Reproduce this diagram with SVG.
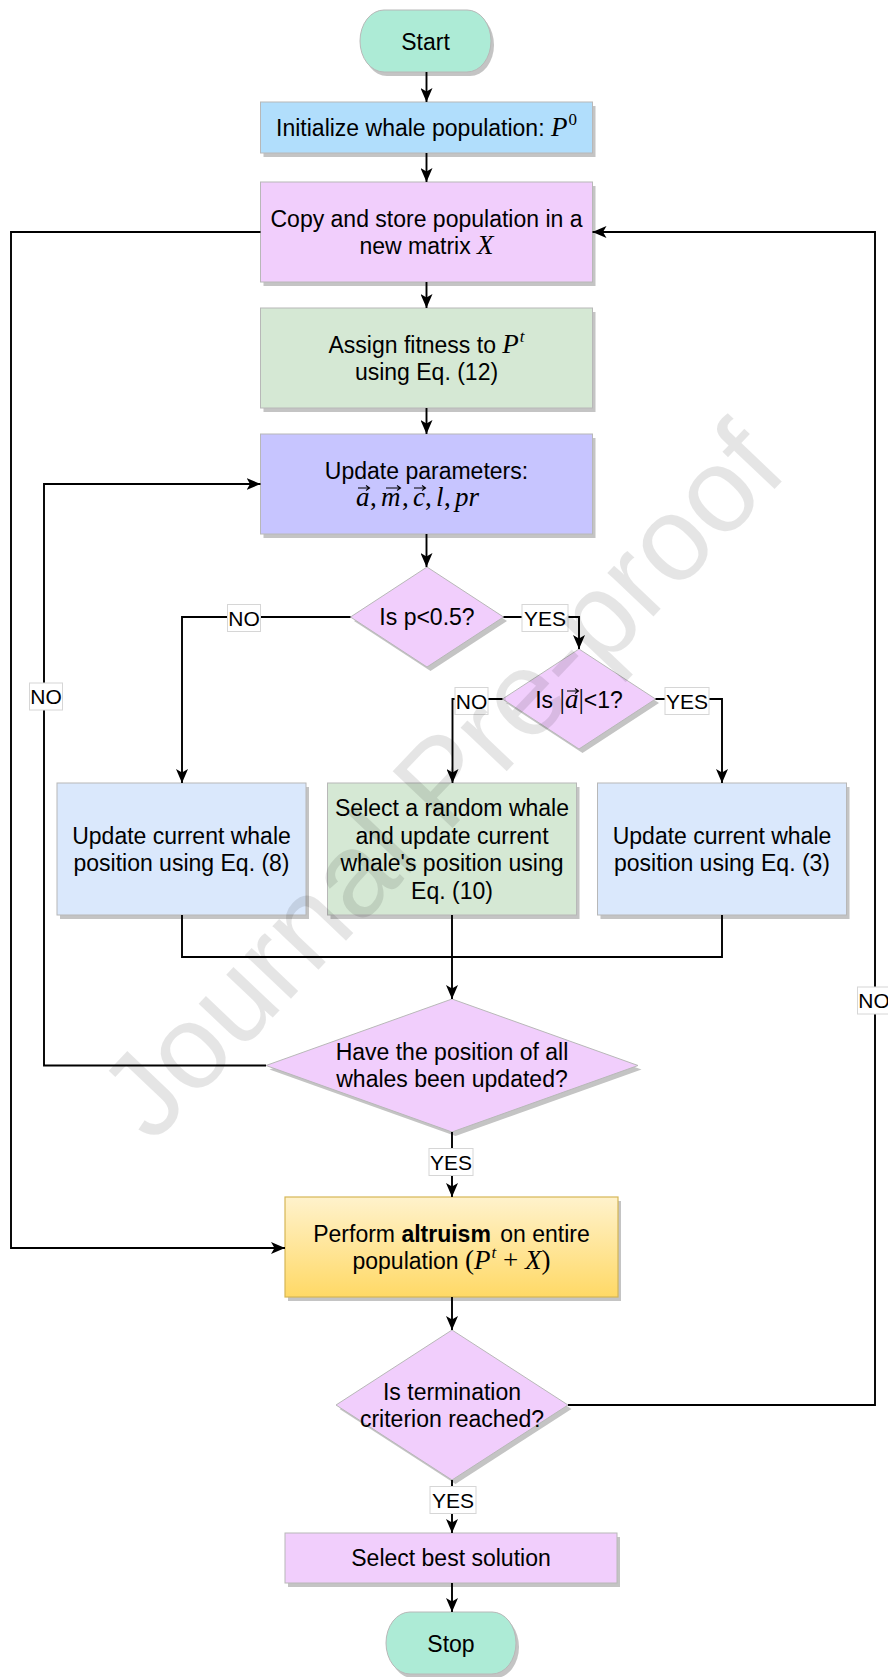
<svg xmlns="http://www.w3.org/2000/svg" width="888" height="1677" viewBox="0 0 888 1677">
<style>
.t{font-family:"Liberation Sans",Arial,sans-serif;font-size:23px;fill:#000;text-anchor:middle}
.lb{font-family:"Liberation Sans",Arial,sans-serif;font-size:21px;fill:#000;text-anchor:middle}
.m{font-family:"Liberation Serif","Times New Roman",serif;font-style:italic;font-size:27px}
.mu{font-family:"Liberation Serif","Times New Roman",serif;font-style:normal;font-size:27px}
.sup{font-family:"Liberation Serif","Times New Roman",serif;font-style:italic;font-size:17px}
.supu{font-family:"Liberation Serif","Times New Roman",serif;font-style:normal;font-size:17px}
.mx{font-family:"Liberation Serif","Times New Roman",serif;font-style:italic;font-size:27px;fill:#000}
.sh{fill:#c4c4c4}
.nb{stroke:#b8b8b8;stroke-width:1}
.term{fill:#adebd6}
.lil{fill:#f1cefc}
.grn{fill:#d5e8d4}
.blu{fill:#dae8fc}
.e{fill:none;stroke:#000;stroke-width:1.9}
.ea{fill:none;stroke:#000;stroke-width:1.9;marker-end:url(#arr)}
.lbox{fill:#fff;stroke:#d6d6d6;stroke-width:1}
.vec{fill:none;stroke:#000;stroke-width:1.1}
</style>
<defs>
<marker id="arr" viewBox="0 0 14 12" refX="14" refY="6" markerWidth="14" markerHeight="12" markerUnits="userSpaceOnUse" orient="auto">
<path d="M0,0 L14,6 L0,12 L3.5,6 Z" fill="#000"/>
</marker>
<linearGradient id="gold" x1="0" y1="0" x2="0" y2="1">
<stop offset="0" stop-color="#fff2cc"/>
<stop offset="1" stop-color="#ffd966"/>
</linearGradient>
</defs>

<g id="start">
<rect class="sh" x="363" y="14" width="131" height="62" rx="24" ry="31"/>
<rect class="term nb" x="360" y="10" width="131" height="62" rx="24" ry="31"/>
<text class="t" x="425.5" y="49.5">Start</text>
</g>

<g id="init">
<rect class="sh" x="263.5" y="106" width="332" height="51"/>
<rect class="nb" fill="#b1defc" x="260.5" y="102" width="332" height="51"/>
<text class="t" x="426.5" y="136">Initialize whale population: <tspan class="m">P</tspan><tspan class="supu" dx="1" dy="-11">0</tspan></text>
</g>

<g id="copy">
<rect class="sh" x="263.5" y="186" width="332" height="100"/>
<rect class="lil nb" x="260.5" y="182" width="332" height="100"/>
<text class="t" x="426.5" y="226.5">Copy and store population in a</text>
<text class="t" x="426.5" y="254">new matrix <tspan class="m">X</tspan></text>
</g>

<g id="assign">
<rect class="sh" x="263.5" y="312" width="332" height="100"/>
<rect class="grn nb" x="260.5" y="308" width="332" height="100"/>
<text class="t" x="426.5" y="352.5">Assign fitness to <tspan class="m">P</tspan><tspan class="sup" dx="1" dy="-11">t</tspan></text>
<text class="t" x="426.5" y="380">using Eq. (12)</text>
</g>

<g id="update">
<rect class="sh" x="263.5" y="438" width="332" height="100"/>
<rect class="nb" fill="#c7c5ff" x="260.5" y="434" width="332" height="100"/>
<text class="t" x="426.5" y="478.5">Update parameters:</text>
<text class="mx" y="506"><tspan x="356">a</tspan><tspan class="mu" x="370">,</tspan><tspan x="381">m</tspan><tspan class="mu" x="402">,</tspan><tspan x="413">c</tspan><tspan class="mu" x="425">,</tspan><tspan x="436">l</tspan><tspan class="mu" x="444">,</tspan><tspan x="455">pr</tspan></text>
<path class="vec" d="M358,488 H369 M366,485.5 L369.5,488 L366,490.5 M386,488 H400 M397,485.5 L400.5,488 L397,490.5 M414,488 H425 M422,485.5 L425.5,488 L422,490.5"/>
</g>

<g id="d1">
<polygon class="sh" points="430.5,571 507,621 430.5,671 354,621"/>
<polygon class="lil nb" points="427,567 503.5,617 427,667 350.5,617"/>
<text class="t" x="427" y="625">Is p&lt;0.5?</text>
</g>

<g id="d2">
<polygon class="sh" points="582.5,653 659,703 582.5,753 506,703"/>
<polygon class="lil nb" points="579,649 655.5,699 579,749 502.5,699"/>
<text class="t" x="579" y="708">Is <tspan class="mu">|</tspan><tspan class="m">a</tspan><tspan class="mu">|</tspan>&lt;1?</text>
<path class="vec" d="M567,691 H578 M575,688.5 L578.5,691 L575,693.5"/>
</g>

<g id="bl">
<rect class="sh" x="60" y="787" width="249" height="132"/>
<rect class="blu nb" x="57" y="783" width="249" height="132"/>
<text class="t" x="181.5" y="843.5">Update current whale</text>
<text class="t" x="181.5" y="871">position using Eq. (8)</text>
</g>

<g id="bm">
<rect class="sh" x="330.5" y="787" width="249" height="132"/>
<rect class="grn nb" x="327.5" y="783" width="249" height="132"/>
<text class="t" x="452" y="816">Select a random whale</text>
<text class="t" x="452" y="843.5">and update current</text>
<text class="t" x="452" y="871">whale's position using</text>
<text class="t" x="452" y="898.5">Eq. (10)</text>
</g>

<g id="br">
<rect class="sh" x="600.5" y="787" width="249" height="132"/>
<rect class="blu nb" x="597.5" y="783" width="249" height="132"/>
<text class="t" x="722" y="843.5">Update current whale</text>
<text class="t" x="722" y="871">position using Eq. (3)</text>
</g>

<g id="d3">
<polygon class="sh" points="455.5,1003 641.5,1069.5 455.5,1136 269.5,1069.5"/>
<polygon class="lil nb" points="452,999 638,1065.5 452,1132 266,1065.5"/>
<text class="t" x="452" y="1059.5">Have the position of all</text>
<text class="t" x="452" y="1087">whales been updated?</text>
</g>

<g id="altruism">
<rect class="sh" x="288" y="1201" width="333" height="100"/>
<rect fill="url(#gold)" stroke="#d6b656" stroke-width="1.2" x="285" y="1197" width="333" height="100"/>
<text class="t" x="451.5" y="1241.5">Perform <tspan style="font-weight:bold">altruism</tspan><tspan dx="3"> on entire</tspan></text>
<text class="t" x="451.5" y="1269">population <tspan class="mu">(</tspan><tspan class="m">P</tspan><tspan class="sup" dx="1" dy="-11">t</tspan><tspan class="mu" dy="11"> + </tspan><tspan class="m">X</tspan><tspan class="mu">)</tspan></text>
</g>

<g id="d4">
<polygon class="sh" points="455.5,1334 571.5,1409 455.5,1484 339.5,1409"/>
<polygon class="lil nb" points="452,1330 568,1405 452,1480 336,1405"/>
<text class="t" x="452" y="1399.5">Is termination</text>
<text class="t" x="452" y="1427">criterion reached?</text>
</g>

<g id="select">
<rect class="sh" x="288" y="1537" width="332" height="50"/>
<rect class="lil nb" x="285" y="1533" width="332" height="50"/>
<text class="t" x="451" y="1566">Select best solution</text>
</g>

<g id="stop">
<rect class="sh" x="389" y="1616" width="130" height="62" rx="24" ry="31"/>
<rect class="term nb" x="386" y="1612" width="130" height="62" rx="24" ry="31"/>
<text class="t" x="451" y="1652">Stop</text>
</g>

<g id="connectors">
<path class="ea" d="M426.5,72 V102"/>
<path class="ea" d="M426.5,153 V182"/>
<path class="ea" d="M426.5,282 V308"/>
<path class="ea" d="M426.5,408 V434"/>
<path class="ea" d="M426.5,534 V567"/>
<path class="ea" d="M350.5,617 H182 V783"/>
<path class="ea" d="M503.5,617 H579 V649"/>
<path class="ea" d="M502.5,699 H452.5 V783"/>
<path class="ea" d="M655.5,699 H722 V783"/>
<path class="e" d="M182,915 V957 H722 V915"/>
<path class="ea" d="M452,915 V999"/>
<path class="ea" d="M266,1065.5 H44 V484 H260.5"/>
<path class="ea" d="M452,1132 V1197"/>
<path class="ea" d="M260.5,232 H11 V1248 H285"/>
<path class="ea" d="M452,1297 V1330"/>
<path class="ea" d="M568,1405 H875 V232 H592.5"/>
<path class="ea" d="M452,1480 V1533"/>
<path class="ea" d="M452,1583 V1612"/>
<rect class="lbox" x="227.5" y="604.5" width="33" height="27"/>
<text class="lb" x="244" y="625.5">NO</text>
<rect class="lbox" x="522" y="604.5" width="46" height="27"/>
<text class="lb" x="545" y="625.5">YES</text>
<rect class="lbox" x="455" y="687.5" width="33" height="27"/>
<text class="lb" x="471.5" y="708.5">NO</text>
<rect class="lbox" x="665" y="687.5" width="44" height="27"/>
<text class="lb" x="687" y="708.5">YES</text>
<rect class="lbox" x="29.5" y="683" width="33" height="27"/>
<text class="lb" x="46" y="704">NO</text>
<rect class="lbox" x="429" y="1148.5" width="44" height="27"/>
<text class="lb" x="451" y="1169.5">YES</text>
<rect class="lbox" x="857.5" y="987" width="33" height="27"/>
<text class="lb" x="874" y="1008">NO</text>
<rect class="lbox" x="430" y="1486.5" width="46" height="27"/>
<text class="lb" x="453" y="1507.5">YES</text>
</g>

<text font-family="Liberation Sans,Arial,sans-serif" font-size="120" fill="#000" fill-opacity="0.1" transform="translate(152,1145) rotate(-46.5)">Journal Pre-proof</text>
</svg>
